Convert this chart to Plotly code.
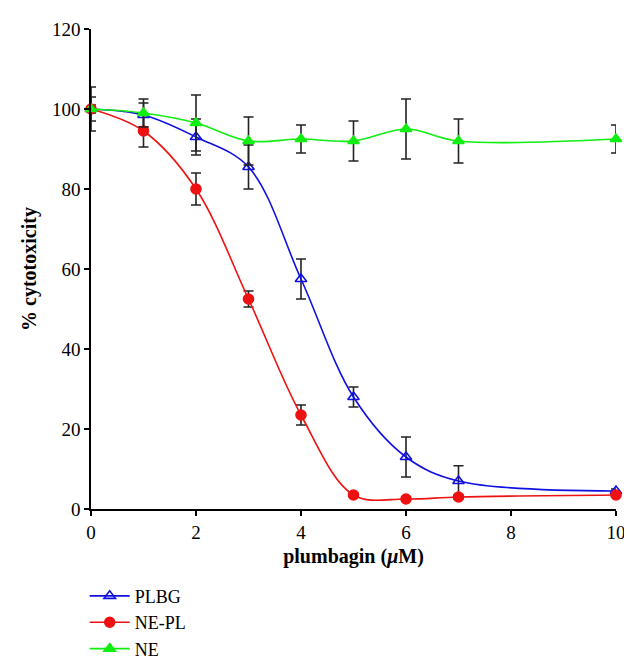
import plotly.graph_objects as go

dose = [0, 1, 2, 3, 4, 5, 6, 7, 10]

plbg = [100, 98.5, 93, 85.5, 57.5, 28, 13, 7, 4.5]
plbg_err = [5.5, 3.0, 4.5, 5.5, 5.0, 2.5, 5.0, 3.8, 0.5]

nepl = [100, 94.5, 80, 52.5, 23.5, 3.5, 2.5, 3.0, 3.5]
nepl_err = [1.0, 4.0, 4.0, 2.0, 2.5, 0.5, 0.5, 0.5, 0.5]

ne = [100, 99, 96.5, 92, 92.5, 92, 95, 92, 92.5]
ne_err = [3.0, 3.5, 7.0, 6.0, 3.5, 5.0, 7.5, 5.5, 3.5]

x_ticks = [0, 2, 4, 6, 8, 10]
y_ticks = [0, 20, 40, 60, 80, 100, 120]

FONT = "Liberation Serif"

fig = go.Figure()

def add(name, y, err, color, symbol):
    fig.add_trace(go.Scatter(
        x=dose, y=y, name=name, mode="lines+markers",
        line=dict(color=color, width=1.6, shape="spline", smoothing=1.0),
        marker=dict(symbol=symbol, size=10, color=color,
                    line=dict(color=color, width=1.6)),
        error_y=dict(type="data", array=err, visible=True,
                     color="#222222", thickness=1.6, width=5),
        cliponaxis=False,
    ))

add("PLBG", plbg, plbg_err, "#1010e0", "triangle-up-open")
add("NE-PL", nepl, nepl_err, "#ee1111", "circle")
add("NE", ne, ne_err, "#11ee11", "triangle-up")

axis_common = dict(showline=True, linecolor="black", linewidth=1.5,
                   ticks="outside", ticklen=5, tickwidth=1.5, tickcolor="black",
                   showgrid=False, zeroline=False, automargin=False,
                   tickfont=dict(family=FONT, size=19))

fig.update_layout(
    width=632, height=661,
    margin=dict(l=83, r=24, t=21, b=160, autoexpand=False),
    paper_bgcolor="white", plot_bgcolor="white",
    font=dict(family=FONT, size=19, color="black"),
    showlegend=True,
    legend=dict(x=-0.012, y=-0.143, xanchor="left", yanchor="top",
                orientation="v", font=dict(family=FONT, size=18),
                tracegroupgap=0, itemwidth=40, bgcolor="rgba(0,0,0,0)"),
    xaxis=dict(range=[0, 10], tickvals=x_ticks, ticktext=[str(v) for v in x_ticks],
               title=dict(text="<b>plumbagin (<i>μ</i>M)</b>", standoff=7,
                          font=dict(family=FONT, size=20)),
               **axis_common),
    yaxis=dict(range=[0, 120], tickvals=y_ticks, ticktext=[str(v) for v in y_ticks],
               title=dict(text="<b>% cytotoxicity</b>", standoff=10,
                          font=dict(family=FONT, size=20)),
               **axis_common),
)

fig.write_html("out.html")
